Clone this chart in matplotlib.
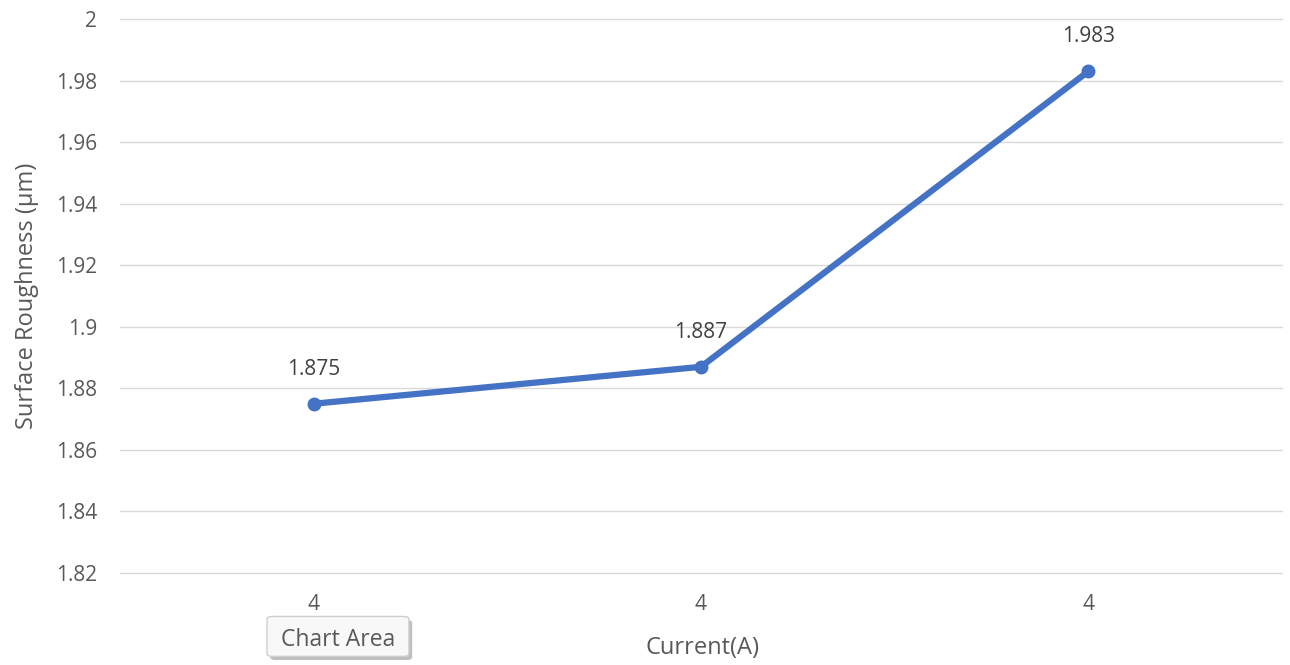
import matplotlib
matplotlib.use("Agg")
import matplotlib.pyplot as plt
from matplotlib.patches import FancyBboxPatch
from matplotlib.ticker import FixedLocator

categories = ["4", "4", "4"]
roughness = [1.875, 1.887, 1.983]
y_ticks = [1.82, 1.84, 1.86, 1.88, 1.90, 1.92, 1.94, 1.96, 1.98, 2.00]
y_tick_labels = ["1.82", "1.84", "1.86", "1.88", "1.9", "1.92", "1.94", "1.96", "1.98", "2"]

plt.rcParams["font.family"] = ["Open Sans", "DejaVu Sans"]
text_color = "#595959"
line_color = "#4472C4"

fig = plt.figure(figsize=(12.9, 6.65), dpi=100)
ax = fig.add_axes([0.093, 0.1383, 0.9008, 0.8331])

x = list(range(len(categories)))
ax.plot(x, roughness, color=line_color, linewidth=4.5, marker="o",
        markersize=9, solid_capstyle="round", zorder=3)

for xi, v in zip(x, roughness):
    ax.annotate(f"{v:g}", (xi, v), xytext=(0, 25), textcoords="offset points",
                ha="center", va="center", fontsize=15, color="#404040")

ax.set_xlim(-0.5, len(categories) - 0.5)
ax.set_ylim(1.82, 2.00)
ax.set_xticks(x)
ax.set_xticklabels(categories)
ax.yaxis.set_major_locator(FixedLocator(y_ticks))
ax.set_yticklabels(y_tick_labels)
ax.tick_params(axis="both", length=0, labelsize=15, colors=text_color)
ax.tick_params(axis="x", pad=15)
ax.tick_params(axis="y", pad=16.5)
ax.grid(axis="y", color="#D9D9D9", linewidth=1)
for gl in ax.get_ygridlines():
    gl.set_clip_on(False)
ax.set_axisbelow(True)
for s in ax.spines.values():
    s.set_visible(False)

fig.text(0.021, 0.555, "Surface Roughness (µm)", rotation=90, ha="center",
         va="center", fontsize=17, color=text_color)
fig.text(0.5442, 0.026, "Current(A)", ha="center", va="center",
         fontsize=17, color=text_color)

# hover tooltip: drop shadow, box, then the label
bx, by, bw, bh = 0.2070, 0.0130, 0.1100, 0.0600
fig.patches.append(FancyBboxPatch(
    (bx + 0.0025, by - 0.0055), bw, bh, transform=fig.transFigure,
    boxstyle="round,pad=0,rounding_size=0.004", facecolor="#8C8C8C",
    edgecolor="none", alpha=0.55))
fig.patches.append(FancyBboxPatch(
    (bx, by), bw, bh, transform=fig.transFigure,
    boxstyle="round,pad=0,rounding_size=0.004", facecolor="#F8F8F8",
    edgecolor="#CFCFCF", linewidth=1))
fig.text(bx + bw / 2, by + bh / 2 - 0.005, "Chart Area", ha="center", va="center",
         fontsize=16.5, color=text_color)

fig.savefig("out.png", dpi=100, facecolor="white")
